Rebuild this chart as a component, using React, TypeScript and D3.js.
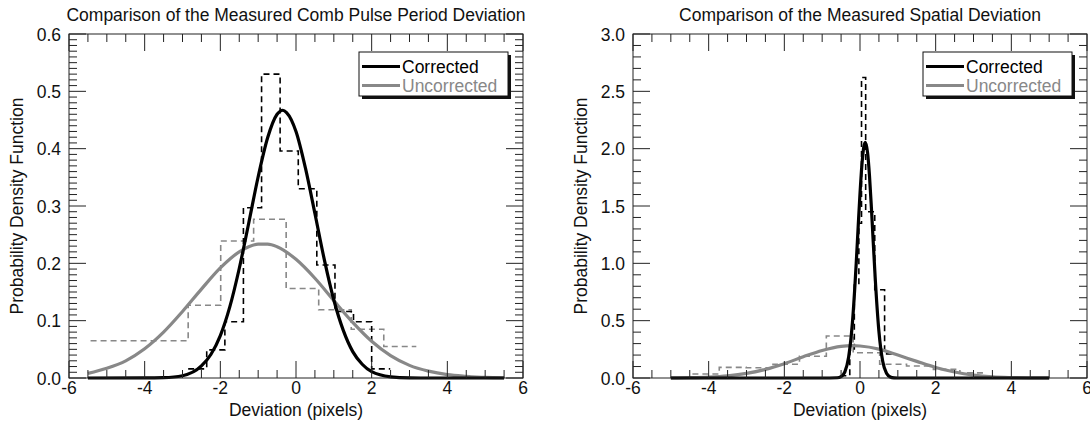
import React from "react";
import * as d3 from "d3";

// ---------- data ----------
const xTickValues = [-6, -4, -2, 0, 2, 4, 6];
const leftYTicks = [0, 0.1, 0.2, 0.3, 0.4, 0.5, 0.6];
const rightYTicks = [0, 0.5, 1, 1.5, 2, 2.5, 3];
const seriesNames = ["Corrected", "Uncorrected"];
const titles = [
  "Comparison of the Measured Comb Pulse Period Deviation",
  "Comparison of the Measured Spatial Deviation",
];
const xLabel = "Deviation (pixels)";
const yLabel = "Probability Density Function";

// Left panel: fitted curves
const leftCorrX = [-5.5, -4, -3.5, -3, -2.5, -2.25, -2, -1.75, -1.5, -1.25, -1, -0.75, -0.5, -0.35, -0.25, 0, 0.25, 0.5, 0.75, 1, 1.25, 1.5, 1.75, 2, 2.5, 3, 3.5, 5.5];
const leftCorrY = [0, 0.0001, 0.0006, 0.004, 0.021, 0.041, 0.074, 0.124, 0.191, 0.27, 0.351, 0.419, 0.46, 0.467, 0.463, 0.43, 0.366, 0.287, 0.206, 0.136, 0.083, 0.046, 0.024, 0.011, 0.002, 0.0002, 0, 0];
const leftUncX = [-5.5, -5, -4.5, -4, -3.5, -3, -2.5, -2, -1.5, -1.25, -1, -0.75, -0.5, 0, 0.5, 1, 1.5, 2, 2.5, 3, 3.5, 4, 4.5, 5, 5.5];
const leftUncY = [0.008, 0.017, 0.03, 0.051, 0.08, 0.116, 0.155, 0.192, 0.22, 0.229, 0.2335, 0.2335, 0.229, 0.207, 0.174, 0.135, 0.097, 0.064, 0.039, 0.022, 0.012, 0.006, 0.003, 0.001, 0.0004];

// Left panel: histograms (bin edges + values)
const leftCorrEdges = [-2.85, -2.36, -1.88, -1.39, -0.91, -0.42, 0.06, 0.55, 1.03, 1.52, 2.0, 2.49];
const leftCorrHist = [0.016, 0.049, 0.098, 0.297, 0.53, 0.396, 0.33, 0.197, 0.116, 0.098, 0.016];
const leftUncEdges = [-5.43, -2.85, -1.99, -1.12, -0.26, 0.6, 1.46, 2.32, 3.18];
const leftUncHist = [0.065, 0.127, 0.239, 0.277, 0.156, 0.119, 0.085, 0.055];

// Right panel: fitted curves
const rightCorrX = [-5, -1, -0.6, -0.5, -0.4, -0.3, -0.2, -0.1, -0.05, 0, 0.05, 0.1, 0.14, 0.2, 0.25, 0.3, 0.35, 0.4, 0.5, 0.6, 0.7, 0.8, 0.9, 1.0, 5];
const rightCorrY = [0, 0, 0.002, 0.012, 0.054, 0.183, 0.484, 1.0, 1.309, 1.609, 1.857, 2.014, 2.055, 1.965, 1.767, 1.492, 1.185, 0.883, 0.407, 0.146, 0.041, 0.009, 0.0015, 0, 0];
const rightUncX = [-5, -4.5, -4, -3.5, -3, -2.5, -2, -1.5, -1, -0.5, -0.2, 0, 0.5, 1, 1.5, 2, 2.5, 3, 3.5, 4, 4.5, 5];
const rightUncY = [0.001, 0.003, 0.008, 0.019, 0.04, 0.075, 0.125, 0.185, 0.24, 0.276, 0.282, 0.279, 0.252, 0.2, 0.145, 0.092, 0.052, 0.025, 0.01, 0.004, 0.0015, 0.0005];

// Right panel: histograms
const rightCorrEdges = [-0.52, -0.27, -0.15, -0.03, 0.04, 0.15, 0.39, 0.65, 0.92];
const rightCorrHist = [0.02, 0.24, 0.81, 1.35, 2.62, 1.45, 0.77, 0.21];
const rightUncEdges = [-4.43, -3.72, -3.01, -2.3, -1.6, -0.89, -0.18, 0.52, 1.23, 1.94, 2.64, 3.35];
const rightUncHist = [0.035, 0.093, 0.09, 0.12, 0.19, 0.366, 0.22, 0.12, 0.105, 0.075, 0.045];

// ---------- styling ----------
const FONT = "'Liberation Sans', Arial, Helvetica, sans-serif";
const BLACK = "#000";
const GREY = "#888";
const TOP = 34;
const BOTTOM = 378;
const FS = 17.5;

type PanelProps = {
  left: number;
  right: number;
  yMax: number;
  yMinor: number;
  yTicks: number[];
  title: string;
  corrX: number[];
  corrY: number[];
  uncX: number[];
  uncY: number[];
  corrEdges: number[];
  corrHist: number[];
  uncEdges: number[];
  uncHist: number[];
};

function Panel(p: PanelProps) {
  const x = d3.scaleLinear().domain([-6, 6]).range([p.left, p.right]);
  const y = d3.scaleLinear().domain([0, p.yMax]).range([BOTTOM, TOP]);
  const line = d3
    .line<[number, number]>()
    .x((d) => x(d[0]))
    .y((d) => y(d[1]))
    .curve(d3.curveMonotoneX);
  const step = d3
    .line<[number, number]>()
    .x((d) => x(d[0]))
    .y((d) => y(d[1]))
    .curve(d3.curveStepAfter);
  const stepPts = (edges: number[], vals: number[]): [number, number][] => {
    const pts: [number, number][] = vals.map((v, i) => [edges[i], v]);
    pts.push([edges[edges.length - 1], vals[vals.length - 1]]);
    return pts;
  };
  const zip = (a: number[], b: number[]): [number, number][] => a.map((v, i) => [v, b[i]]);

  const MAJ = 17;
  const MIN = 8;
  const xMinor = d3.range(-6, 6.0001, 0.5);
  const yMinorVals = d3.range(0, p.yMax + 1e-6, p.yMinor);
  const isMajorX = (v: number) => Math.abs(v / 2 - Math.round(v / 2)) < 1e-6;
  const yMajStep = p.yTicks[1] - p.yTicks[0];
  const isMajorY = (v: number) => Math.abs(v / yMajStep - Math.round(v / yMajStep)) < 1e-6;
  const fmt = d3.format(".1f");
  const cx = (p.left + p.right) / 2;

  const legX = p.right - 164;
  const legY = 52;
  const legW = 149;
  const legH = 44;

  return (
    <g>
      <text x={cx} y={20.5} textAnchor="middle" fontSize={FS} fontFamily={FONT} fill="#111">
        {p.title}
      </text>
      {/* histograms */}
      <path d={step(stepPts(p.uncEdges, p.uncHist)) || ""} fill="none" stroke={GREY} strokeWidth={1.6} strokeDasharray="6,4" />
      <path d={step(stepPts(p.corrEdges, p.corrHist)) || ""} fill="none" stroke={BLACK} strokeWidth={1.6} strokeDasharray="6,4" />
      {/* fits */}
      <path d={line(zip(p.uncX, p.uncY)) || ""} fill="none" stroke={GREY} strokeWidth={3.2} />
      <path d={line(zip(p.corrX, p.corrY)) || ""} fill="none" stroke={BLACK} strokeWidth={3.2} />
      {/* frame */}
      <rect x={p.left} y={TOP} width={p.right - p.left} height={BOTTOM - TOP} fill="none" stroke="#222" strokeWidth={1} />
      {/* x ticks */}
      {xMinor.map((v, i) => {
        const len = isMajorX(v) ? MAJ : MIN;
        const xx = x(v);
        return (
          <g key={"xt" + i}>
            <line x1={xx} x2={xx} y1={BOTTOM} y2={BOTTOM - len} stroke="#222" strokeWidth={1} />
            <line x1={xx} x2={xx} y1={TOP} y2={TOP + len} stroke="#222" strokeWidth={1} />
          </g>
        );
      })}
      {/* y ticks */}
      {yMinorVals.map((v, i) => {
        const len = isMajorY(v) ? MAJ : MIN;
        const yy = y(v);
        return (
          <g key={"yt" + i}>
            <line x1={p.left} x2={p.left + len} y1={yy} y2={yy} stroke="#222" strokeWidth={1} />
            <line x1={p.right} x2={p.right - len} y1={yy} y2={yy} stroke="#222" strokeWidth={1} />
          </g>
        );
      })}
      {xTickValues.map((v) => (
        <text key={"xl" + v} x={x(v)} y={394} textAnchor="middle" fontSize={FS} fontFamily={FONT} fill="#111">
          {v}
        </text>
      ))}
      {p.yTicks.map((v) => (
        <text key={"yl" + v} x={p.left - 8} y={y(v) + 6.5} textAnchor="end" fontSize={FS} fontFamily={FONT} fill="#111">
          {fmt(v)}
        </text>
      ))}
      <text x={cx} y={416} textAnchor="middle" fontSize={FS} fontFamily={FONT} fill="#111">
        {xLabel}
      </text>
      <text
        transform={`translate(${p.left - 46},${(TOP + BOTTOM) / 2}) rotate(-90)`}
        textAnchor="middle"
        fontSize={FS}
        fontFamily={FONT}
        fill="#111"
      >
        {yLabel}
      </text>
      {/* legend */}
      <rect x={legX + 3} y={legY + 3} width={legW} height={legH} fill="#111" />
      <rect x={legX} y={legY} width={legW} height={legH} fill="#fff" stroke="#111" strokeWidth={1} />
      <line x1={legX + 3} x2={legX + 41} y1={legY + 14.5} y2={legY + 14.5} stroke={BLACK} strokeWidth={3.2} />
      <text x={legX + 43} y={legY + 21} fontSize={FS} fontFamily={FONT} fill={BLACK}>
        {seriesNames[0]}
      </text>
      <line x1={legX + 3} x2={legX + 41} y1={legY + 33.5} y2={legY + 33.5} stroke={GREY} strokeWidth={3.2} />
      <text x={legX + 43} y={legY + 40} fontSize={FS} fontFamily={FONT} fill={GREY}>
        {seriesNames[1]}
      </text>
    </g>
  );
}

export default function App() {
  return (
    <svg
      width={1090}
      height={423}
      viewBox="0 0 1090 423"
      style={{ position: "absolute", left: 0, top: 0, background: "#fff" }}
    >
      <rect x={0} y={0} width={1090} height={423} fill="#fff" />
      <Panel
        left={69}
        right={523}
        yMax={0.6}
        yMinor={0.01}
        yTicks={leftYTicks}
        title={titles[0]}
        corrX={leftCorrX}
        corrY={leftCorrY}
        uncX={leftUncX}
        uncY={leftUncY}
        corrEdges={leftCorrEdges}
        corrHist={leftCorrHist}
        uncEdges={leftUncEdges}
        uncHist={leftUncHist}
      />
      <Panel
        left={633}
        right={1087}
        yMax={3}
        yMinor={0.1}
        yTicks={rightYTicks}
        title={titles[1]}
        corrX={rightCorrX}
        corrY={rightCorrY}
        uncX={rightUncX}
        uncY={rightUncY}
        corrEdges={rightCorrEdges}
        corrHist={rightCorrHist}
        uncEdges={rightUncEdges}
        uncHist={rightUncHist}
      />
    </svg>
  );
}
